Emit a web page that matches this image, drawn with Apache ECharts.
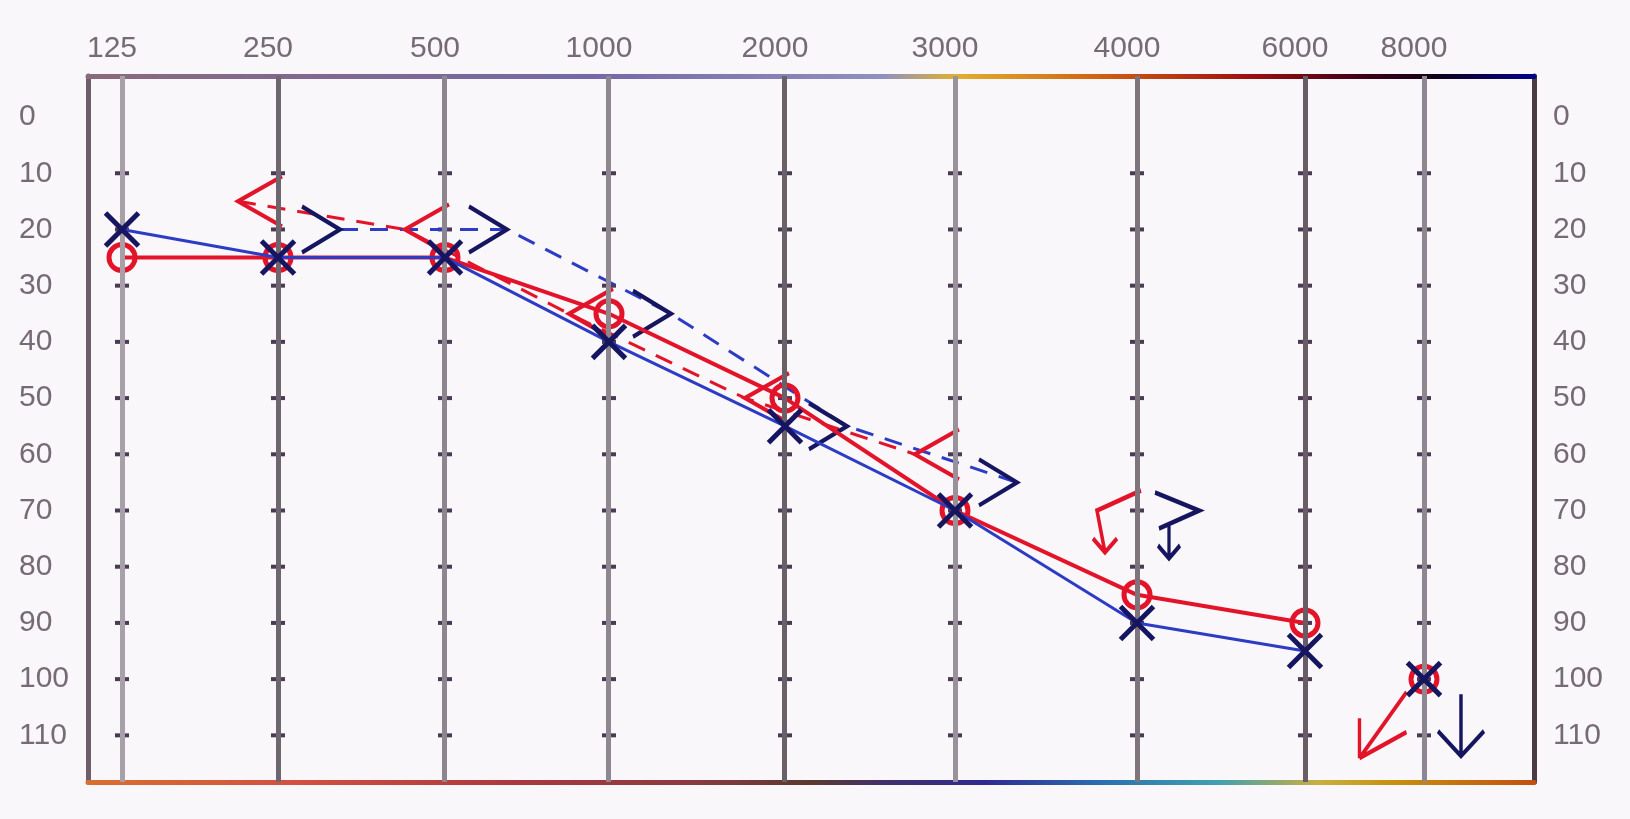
<!DOCTYPE html>
<html>
<head>
<meta charset="utf-8">
<script src="https://cdn.jsdelivr.net/npm/echarts@6/dist/echarts.min.js"></script>
<style>
html,body{margin:0;padding:0;background:#f9f7f9;}
#chart{width:1630px;height:819px;}
</style>
</head>
<body>
<div id="chart"></div>
<script>
// ---------------- data ----------------
const FREQ_LABELS = ['125', '250', '500', '1000', '2000', '3000', '4000', '6000', '8000'];
// printed column of each frequency on this audiogram form (the form's own frequency scale)
const FREQ_COLUMN = [0, 0.9585, 1.9846, 2.9923, 4.0737, 5.1183, 6.2366, 7.2688, 8];
const DB_LABELS = [0, 10, 20, 30, 40, 50, 60, 70, 80, 90, 100, 110];
const DB_TICK_MARKS = [10, 20, 30, 40, 50, 60, 70, 80, 90, 100, 110];

// air conduction (solid), dB HL
const RIGHT_AC = [25, 25, 25, 35, 50, 70, 85, 90, null];
const LEFT_AC = [20, 25, 25, 40, 55, 70, 90, 95, null];
// no response at the limit
const RIGHT_AC_NR = [null, null, null, null, null, null, null, null, 100];
const LEFT_AC_NR = [null, null, null, null, null, null, null, null, 100];
// bone conduction (dashed)
const RIGHT_BC = [null, 15, 20, 35, 50, 60, null, null, null];
const LEFT_BC = [null, 20, 20, 35, 55, 65, null, null, null];
const RIGHT_BC_NR = [null, null, null, null, null, null, 70, null, null];
const LEFT_BC_NR = [null, null, null, null, null, null, 70, null, null];

// ---------------- layout / style ----------------
const GRID = {left: 88, right: 96, top: 76, bottom: 37};
const X_MIN = -0.2089, X_MAX = 8.676;
const Y_MIN = -7.3, Y_MAX = 118.3;
const PX_PER_COL = (1630 - GRID.left - GRID.right) / (X_MAX - X_MIN);
const BC_SHIFT_RIGHT_PX = -40;   // right-ear bone symbols sit left of the line
const BC_SHIFT_LEFT_PX = 62;     // left-ear bone symbols sit right of the line
const RED = '#e3142a';
const BLUE_LINE = '#2c3cc4';
const NAVY = '#161660';
const GRID_LINE_COLORS = ['#a8a0a8', '#6e666e', '#8e868e', '#8f8790', '#6a6068', '#9a929a', '#7e747c', '#6a5c66', '#8e8690'];

function pts(arr) {
  const out = [];
  arr.forEach((v, i) => { if (v !== null) out.push([FREQ_COLUMN[i], v]); });
  return out;
}
function shiftedAxis(px) {
  const d = px / PX_PER_COL;
  return {type: 'value', show: false, min: X_MIN - d, max: X_MAX - d, gridIndex: 0,
          axisLine: {onZero: false}};
}

const tickMarks = [];
FREQ_COLUMN.forEach(c => DB_TICK_MARKS.forEach(d => tickMarks.push([c, d])));

const X_PATH = 'path://M0,0L10,10M10,0L0,10';
const LT_PATH = 'path://M40,0L0,25L40,50';
const GT_PATH = 'path://M0,0L40,25L0,50';
const RED_AC_ARROW = 'path://M47,0L0,66M0,66L0,26M0,66L47,40';
const BLUE_AC_ARROW = 'path://M25,0L25,62M0,37L25,62L50,37';
const RED_BC_NR = 'path://M48,0L4,20L12,62M0,48L12,62L24,48';
const BLUE_BC_NR = 'path://M0,0L44,18L4,36M14,32L14,66M3,53L14,66L25,53';

const topGradient = new echarts.graphic.LinearGradient(0, 0, 1, 0, [
  {offset: 0, color: '#8a6a7c'}, {offset: 0.35, color: '#7468a8'}, {offset: 0.55, color: '#9090c0'},
  {offset: 0.6, color: '#e0b030'}, {offset: 0.7, color: '#d06010'}, {offset: 0.8, color: '#a01010'},
  {offset: 0.88, color: '#400018'}, {offset: 0.93, color: '#100018'}, {offset: 1, color: '#000090'}
]);
const bottomGradient = new echarts.graphic.LinearGradient(0, 0, 1, 0, [
  {offset: 0, color: '#d87030'}, {offset: 0.15, color: '#d05040'}, {offset: 0.3, color: '#a83840'},
  {offset: 0.42, color: '#8a3a40'}, {offset: 0.5, color: '#5a3a30'}, {offset: 0.55, color: '#40306a'},
  {offset: 0.62, color: '#302a90'}, {offset: 0.7, color: '#2a70b0'}, {offset: 0.78, color: '#40a0b0'},
  {offset: 0.85, color: '#c8b040'}, {offset: 0.9, color: '#c89010'}, {offset: 1, color: '#c05010'}
]);

const labelFont = {fontFamily: 'Liberation Sans', fontSize: 30, color: '#766a76'};

const chart = echarts.init(document.getElementById('chart'), null, {renderer: 'canvas'});
chart.setOption({
  backgroundColor: '#f9f7f9',
  animation: false,
  grid: {left: GRID.left, right: GRID.right, top: GRID.top, bottom: GRID.bottom, show: false},
  xAxis: [
    {
      type: 'value', position: 'top', min: X_MIN, max: X_MAX,
      axisLine: {show: true, onZero: false, lineStyle: {color: topGradient, width: 5}},
      axisTick: {show: false}, splitLine: {show: false},
      axisLabel: Object.assign({
        customValues: FREQ_COLUMN, margin: 12, padding: [0, 20, 0, 0],
        formatter: v => FREQ_LABELS[FREQ_COLUMN.findIndex(c => Math.abs(c - v) < 1e-6)]
      }, labelFont)
    },
    {
      type: 'value', position: 'bottom', min: X_MIN, max: X_MAX,
      axisLine: {show: true, onZero: false, lineStyle: {color: bottomGradient, width: 5}},
      axisTick: {show: false}, splitLine: {show: false}, axisLabel: {show: false}
    },
    shiftedAxis(BC_SHIFT_RIGHT_PX),
    shiftedAxis(BC_SHIFT_LEFT_PX)
  ],
  yAxis: [
    {
      type: 'value', position: 'left', inverse: true, min: Y_MIN, max: Y_MAX,
      axisLine: {show: true, onZero: false, lineStyle: {color: '#6d5f6a', width: 5}},
      axisTick: {show: false}, splitLine: {show: false},
      axisLabel: Object.assign({customValues: DB_LABELS, align: 'left', margin: 69}, labelFont)
    },
    {
      type: 'value', position: 'right', inverse: true, min: Y_MIN, max: Y_MAX,
      axisLine: {show: true, onZero: false, lineStyle: {color: '#4a3a44', width: 5}},
      axisTick: {show: false}, splitLine: {show: false},
      axisLabel: Object.assign({customValues: DB_LABELS, align: 'left', margin: 19}, labelFont)
    }
  ],
  series: [
    {
      name: 'grid', type: 'scatter', xAxisIndex: 0, yAxisIndex: 0, silent: true, z: 1,
      symbol: 'rect', symbolSize: [14, 4], itemStyle: {color: '#4a3a55', opacity: 1},
      data: tickMarks,
      markLine: {
        silent: true, symbol: 'none', label: {show: false},
        data: FREQ_COLUMN.map((c, i) => ({xAxis: c, lineStyle: {color: GRID_LINE_COLORS[i], width: 5, type: 'solid', opacity: 1}}))
      }
    },
    {
      name: 'Right BC', type: 'line', xAxisIndex: 2, yAxisIndex: 0, z: 3,
      data: pts(RIGHT_BC),
      lineStyle: {color: RED, width: 3, type: [18, 12]},
      symbol: LT_PATH, symbolSize: [44, 50], symbolOffset: [22, 0],
      itemStyle: {color: 'none', borderColor: RED, borderWidth: 4, opacity: 1}
    },
    {
      name: 'Right BC NR', type: 'scatter', xAxisIndex: 2, yAxisIndex: 0, z: 3,
      data: pts(RIGHT_BC_NR),
      symbol: RED_BC_NR, symbolSize: [48, 62], symbolOffset: [20, 11],
      itemStyle: {color: 'none', borderColor: RED, borderWidth: 4, opacity: 1}
    },
    {
      name: 'Left BC', type: 'line', xAxisIndex: 3, yAxisIndex: 0, z: 3,
      data: pts(LEFT_BC),
      lineStyle: {color: BLUE_LINE, width: 3, type: [18, 12]},
      symbol: GT_PATH, symbolSize: [38, 46], symbolOffset: [-19, 0],
      itemStyle: {color: 'none', borderColor: NAVY, borderWidth: 4, opacity: 1}
    },
    {
      name: 'Left BC NR', type: 'scatter', xAxisIndex: 3, yAxisIndex: 0, z: 3,
      data: pts(LEFT_BC_NR),
      symbol: BLUE_BC_NR, symbolSize: [44, 66], symbolOffset: [-22, 15],
      itemStyle: {color: 'none', borderColor: NAVY, borderWidth: 4, opacity: 1}
    },
    {
      name: 'Right AC', type: 'line', xAxisIndex: 0, yAxisIndex: 0, z: 4,
      data: pts(RIGHT_AC),
      lineStyle: {color: RED, width: 4},
      symbol: 'circle', symbolSize: 26,
      itemStyle: {color: 'none', borderColor: RED, borderWidth: 5, opacity: 1}
    },
    {
      name: 'Right AC NR', type: 'scatter', xAxisIndex: 0, yAxisIndex: 0, z: 4,
      data: pts(RIGHT_AC_NR),
      symbol: 'circle', symbolSize: 26,
      itemStyle: {color: 'none', borderColor: RED, borderWidth: 5, opacity: 1}
    },
    {
      name: 'Right AC NR arrow', type: 'scatter', xAxisIndex: 0, yAxisIndex: 0, z: 4,
      data: pts(RIGHT_AC_NR),
      symbol: RED_AC_ARROW, symbolSize: [47, 66], symbolOffset: [-41, 46],
      itemStyle: {color: 'none', borderColor: RED, borderWidth: 4, opacity: 1}
    },
    {
      name: 'Left AC', type: 'line', xAxisIndex: 0, yAxisIndex: 0, z: 5,
      data: pts(LEFT_AC),
      lineStyle: {color: BLUE_LINE, width: 3},
      symbol: X_PATH, symbolSize: 33,
      itemStyle: {color: 'none', borderColor: NAVY, borderWidth: 5, opacity: 1}
    },
    {
      name: 'Left AC NR', type: 'scatter', xAxisIndex: 0, yAxisIndex: 0, z: 5,
      data: pts(LEFT_AC_NR),
      symbol: X_PATH, symbolSize: 33,
      itemStyle: {color: 'none', borderColor: NAVY, borderWidth: 5, opacity: 1}
    },
    {
      name: 'Left AC NR arrow', type: 'scatter', xAxisIndex: 0, yAxisIndex: 0, z: 5,
      data: pts(LEFT_AC_NR),
      symbol: BLUE_AC_ARROW, symbolSize: [46, 62], symbolOffset: [37, 46],
      itemStyle: {color: 'none', borderColor: NAVY, borderWidth: 4, opacity: 1}
    }
  ]
});
</script>
</body>
</html>
